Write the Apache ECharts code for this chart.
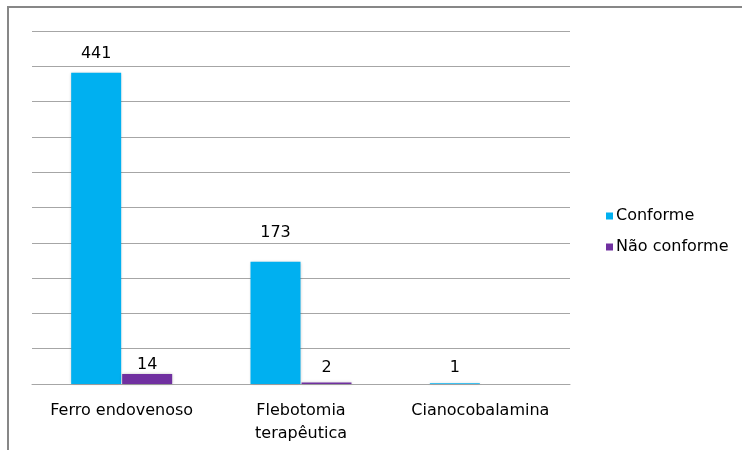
<!DOCTYPE html>
<html><head><meta charset="utf-8">
<script src="https://cdn.jsdelivr.net/npm/echarts@6/dist/echarts.min.js"></script>
<style>html,body{margin:0;padding:0;background:#fff}#c{width:742px;height:450px}</style>
</head><body><div id="c"></div>
<script>
const categories = ['Ferro endovenoso', 'Flebotomia\nterapêutica', 'Cianocobalamina'];
const conforme = [441, 173, 1];
const naoConforme = [14, 2, 0];
const seriesNames = ['Conforme', 'Não conforme'];

const chart = echarts.init(document.getElementById('c'));
const FONT = 'DejaVu Sans';
// label placement (style only)
const labelDist = [[11, 21, 7], [1.5, 7, 7]];
const shadow = { shadowBlur: 3, shadowColor: 'rgba(0,0,0,0.25)' };
function makeData(vals, si) {
  return vals.map((v, i) => ({
    value: v,
    label: { distance: labelDist[si][i] }
  }));
}
const labelCfg = {
  show: true, position: 'top', color: '#000', fontFamily: FONT, fontSize: 16,
  formatter: p => (p.value === 0 ? '' : String(p.value))
};
chart.setOption({
  animation: false,
  textStyle: { fontFamily: FONT },
  graphic: [{ type: 'rect', shape: { x: 8, y: 7, width: 800, height: 500 }, style: { fill: 'none', stroke: '#878787', lineWidth: 2 }, silent: true }],
  grid: { left: 32, right: 172, top: 31, bottom: 66 },
  legend: {
    orient: 'vertical', left: 601, top: 203, itemWidth: 7, itemHeight: 7, itemGap: 15, icon: 'rect',
    textStyle: { fontFamily: FONT, fontSize: 16, color: '#000', padding: [0, 0, 0, -2] },
    data: seriesNames
  },
  xAxis: {
    type: 'category', data: categories,
    axisLine: { show: true, lineStyle: { color: '#a6a6a6' } }, axisTick: { show: false },
    axisLabel: { interval: 0, color: '#000', fontFamily: FONT, fontSize: 16, margin: 15, lineHeight: 23 }
  },
  yAxis: {
    type: 'value', min: 0, max: 500, interval: 50,
    axisLabel: { show: false }, axisLine: { show: false }, axisTick: { show: false },
    splitLine: { lineStyle: { color: '#a6a6a6', width: 1 } }
  },
  series: [
    { name: seriesNames[0], type: 'bar', data: makeData(conforme, 0), barWidth: 50, barGap: '2%', itemStyle: Object.assign({ color: '#00B0F0' }, shadow), label: labelCfg },
    { name: seriesNames[1], type: 'bar', data: makeData(naoConforme, 1), barWidth: 50, itemStyle: Object.assign({ color: '#7030A0' }, shadow), label: labelCfg }
  ]
});
</script></body></html>
